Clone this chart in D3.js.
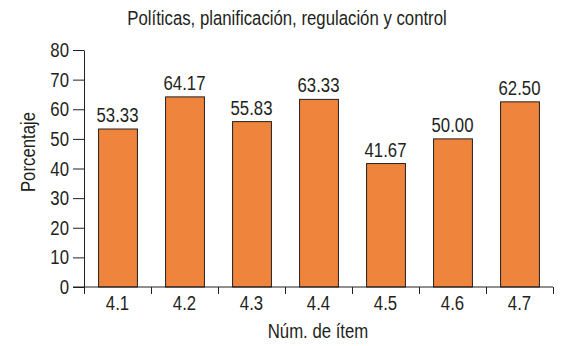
<!DOCTYPE html>
<html>
<head>
<meta charset="utf-8">
<script src="https://cdn.jsdelivr.net/npm/d3@7"></script>
<style>
  body { margin: 0; background: #fff; }
  text { font-family: "Liberation Sans", Arial, sans-serif; fill: #231f20; }
</style>
</head>
<body>
<div id="container"></div>
<script>
/* DATA */
const items = ["4.1", "4.2", "4.3", "4.4", "4.5", "4.6", "4.7"];
const values = [53.33, 64.17, 55.83, 63.33, 41.67, 50.00, 62.50];
const yTicks = [0, 10, 20, 30, 40, 50, 60, 70, 80];

/* CONSTANTS */
const width = 573,
  height = 346,
  margin = { top: 50, right: 20, bottom: 59, left: 84 },
  fontSize = 19.5,
  squeeze = 0.86; // the original font is a condensed one

const svg = d3.select("#container")
  .append("svg")
  .attr("width", width)
  .attr("height", height);

// draws condensed text at x, y
function label(sel, x, y, txt, anchor, rotate) {
  return sel.append("text")
    .attr("transform", `translate(${x}, ${y})${rotate ? " rotate(" + rotate + ")" : ""} scale(${squeeze}, 1)`)
    .attr("text-anchor", anchor || "middle")
    .attr("font-size", fontSize)
    .text(txt);
}

// scales
const xScale = d3.scaleBand()
  .domain(items)
  .range([margin.left, 553])
  .paddingInner(0.42)
  .paddingOuter(0.21);

const yScale = d3.scaleLinear()
  .domain([0, 80])
  .range([height - margin.bottom, margin.top]);

// title
label(svg, 287, 25, "Políticas, planificación, regulación y control");

// bars
svg.selectAll("rect.bar")
  .data(values)
  .join("rect")
  .attr("class", "bar")
  .attr("x", (d, i) => xScale(items[i]) + 0.5)
  .attr("y", d => yScale(d))
  .attr("width", xScale.bandwidth())
  .attr("height", d => yScale(0) - yScale(d))
  .attr("fill", "#ef843c")
  .attr("stroke", "#231f20")
  .attr("stroke-width", 1);

// value labels
values.forEach((d, i) => {
  label(svg, xScale(items[i]) + xScale.bandwidth() / 2, yScale(d) - 7, d.toFixed(2));
});

// y axis
const yAxis = d3.axisLeft(yScale)
  .tickValues(yTicks)
  .tickSize(11)
  .tickSizeOuter(0)
  .tickFormat("");

const yAxisGroup = svg.append("g")
  .attr("transform", `translate(${margin.left}, 0)`)
  .call(yAxis);
yAxisGroup.selectAll("line, path").attr("stroke", "#231f20");
yTicks.forEach(t => {
  label(svg, margin.left - 15, yScale(t) + 7, t, "end");
});

// x axis: line with ticks at category boundaries
const xAxisGroup = svg.append("g")
  .attr("transform", `translate(0, ${yScale(0)})`);
xAxisGroup.append("line")
  .attr("x1", margin.left - 11)
  .attr("x2", 553)
  .attr("stroke", "#231f20");
const bound = i => margin.left + i * (553 - margin.left) / items.length + 0.5;
xAxisGroup.selectAll("line.tick")
  .data(d3.range(items.length + 1))
  .join("line")
  .attr("class", "tick")
  .attr("x1", bound)
  .attr("x2", bound)
  .attr("y1", 0)
  .attr("y2", 7)
  .attr("stroke", "#231f20");
items.forEach(d => {
  label(xAxisGroup, xScale(d) + xScale.bandwidth() / 2, 23, d);
});

// axis labels
label(svg, 318, 338, "Núm. de ítem");
label(svg, 35, 152, "Porcentaje", "middle", -90);
</script>
</body>
</html>
